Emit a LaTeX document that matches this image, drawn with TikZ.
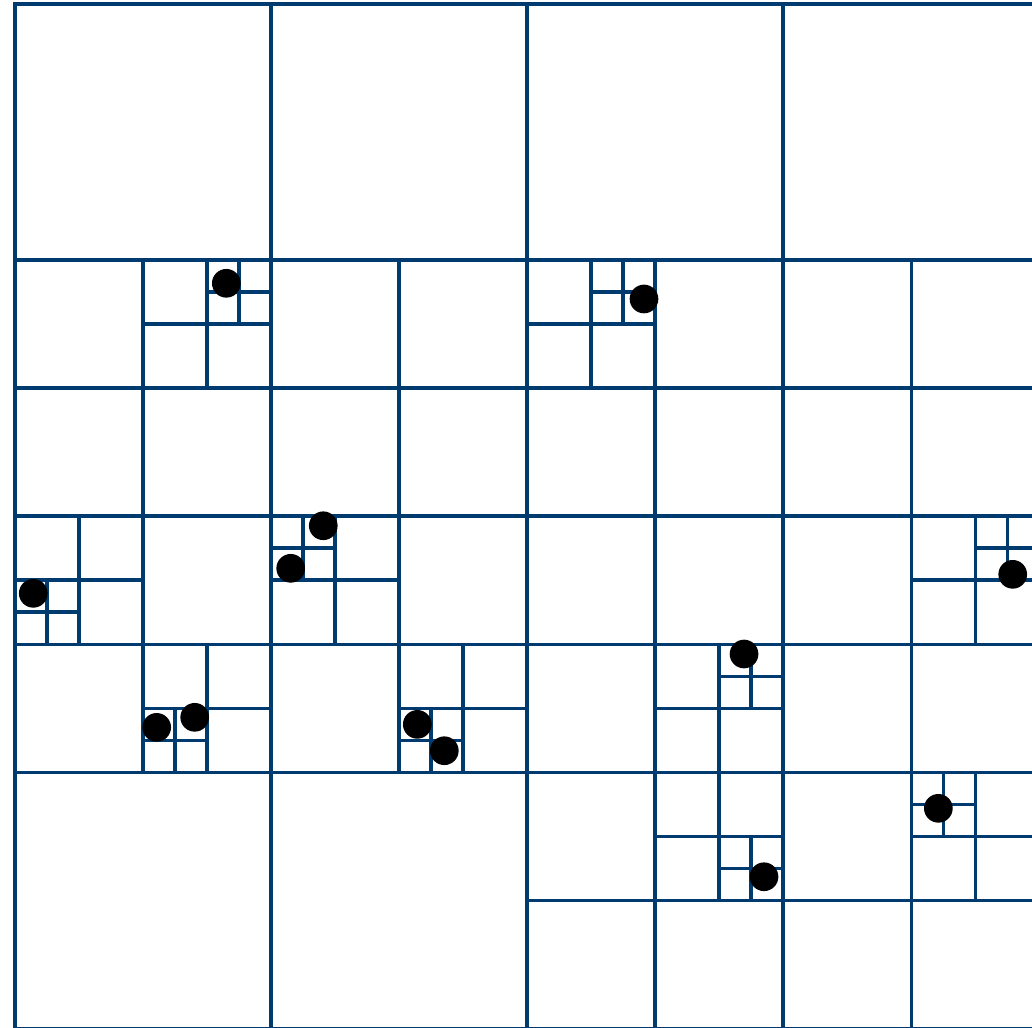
\documentclass[tikz,border=0pt]{standalone}
\usepackage{xcolor}
\usepackage{tikz}
\definecolor{gridblue}{RGB}{0,59,111}

\begin{document}
\begin{tikzpicture}[x=0.5cm, y=0.5cm,
  cell/.style={draw=gridblue, line width=0.68pt},
  pt/.style={fill=black}
]
  \useasboundingbox (-0.234,0.016) rectangle (15.89,16.0625);
  \clip (-0.234,0.016) rectangle (15.89,16.0625);

  % root square
  \draw[cell] (0,0) rectangle (16,16);

  % splits: lower-left x / y / size
  \foreach \x/\y/\s in {0/0/16,
      0/0/8, 8/0/8, 0/8/8, 8/8/8,
      0/8/4, 4/8/4, 8/8/4, 12/8/4,
      0/4/4, 4/4/4, 8/4/4, 12/4/4,
      8/0/4, 12/0/4,
      2/10/2, 8/10/2, 0/6/2, 4/6/2, 14/6/2,
      2/4/2, 6/4/2, 10/4/2, 10/2/2, 14/2/2,
      3/11/1, 9/11/1, 0/6/1, 4/7/1, 15/7/1,
      2/4/1, 6/4/1, 11/5/1, 11/2/1, 14/3/1}
    \draw[cell] (\x+\s/2,\y) -- ++(0,\s) (\x,\y+\s/2) -- ++(\s,0);

  % points
  \foreach \px/\py in {3.302/11.636, 9.828/11.391, 0.286/6.792,
      4.817/7.848, 4.308/7.183, 15.589/7.089, 2.214/4.698,
      2.808/4.855, 6.286/4.745, 6.708/4.333, 11.391/5.844,
      11.703/2.364, 14.427/3.433}
    \fill[pt] (\px,\py) circle (0.224);
\end{tikzpicture}
\end{document}
